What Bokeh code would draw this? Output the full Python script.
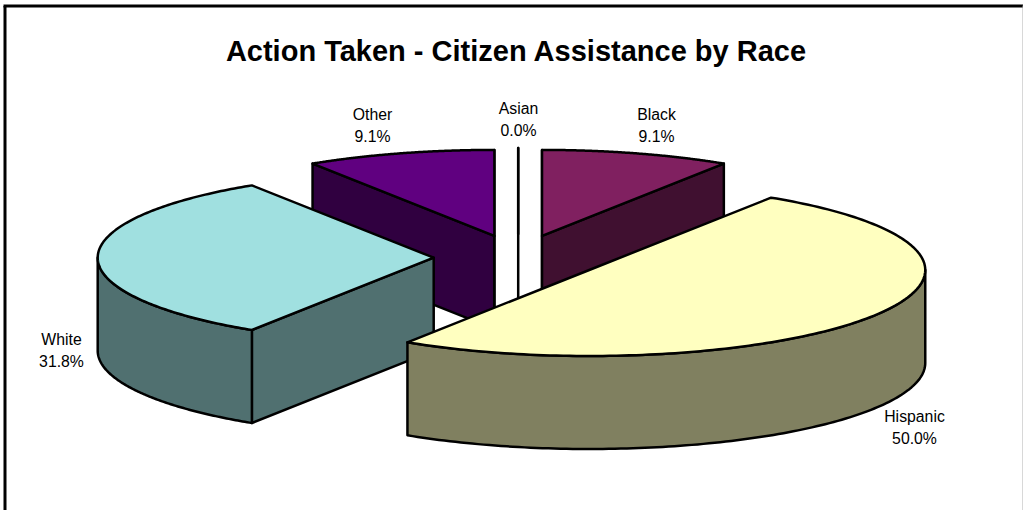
import numpy as np
from bokeh.plotting import figure
from bokeh.models import Range1d, ColumnDataSource
from bokeh.core.properties import value
from bokeh.embed import file_html
from bokeh.resources import INLINE

# --- data (clockwise from 12 o'clock) ---
categories = ["Asian", "Black", "Hispanic", "White", "Other"]
percent = [0.0, 9.1, 50.0, 31.8, 9.1]
title = "Action Taken - Citizen Assistance by Race"

# --- styles ---
top_colors = {"Asian": "#ffffff", "Black": "#802060", "Hispanic": "#FFFFC0", "White": "#A0E0E0", "Other": "#600080"}
side_colors = {"Asian": "#ffffff", "Black": "#401030", "Hispanic": "#808060", "White": "#507070", "Other": "#300040"}
draw_order = ["Asian", "Other", "Black", "White", "Hispanic"]

# --- layout of the pie ---
CX, CY = 517.7, 257.2
RX, RY = 336.0, 86.0
DEPTH = 93.0
EXPLODE_X, EXPLODE_Y = 84.5, 22.7
EXTRA_Y = {"Asian": 1.0}
label_pos = {"Asian": (518, 108), "Black": (656, 114), "Hispanic": (914, 416), "White": (61, 339), "Other": (372, 114)}
LINE_GAP = 22

W, H = 1023, 510
p = figure(width=W, height=H, x_range=Range1d(0, W), y_range=Range1d(H, 0),
           output_backend="svg", toolbar_location=None, min_border=0,
           background_fill_color="white", border_fill_color="white", outline_line_color=None)
p.axis.visible = False
p.grid.visible = False
p.styles = {"position": "absolute", "left": "0px", "top": "0px"}

total = sum(percent)
spans = {}
a = 0.0
for c, v in zip(categories, percent):
    spans[c] = (a, a + v / total * 2 * np.pi)
    a = spans[c][1]

xs, ys, fills = [], [], []


def add(x, y, color):
    xs.append(list(map(float, x)))
    ys.append(list(map(float, y)))
    fills.append(color)


for c in draw_order:
    t0, t1 = spans[c]
    mid = (t0 + t1) / 2
    cx = CX + EXPLODE_X * np.sin(mid)
    cy = CY - (EXPLODE_Y + EXTRA_Y.get(c, 0.0)) * np.cos(mid)
    px = lambda t: cx + RX * np.sin(t)
    py = lambda t: cy - RY * np.cos(t)
    # radial wall at the start edge, faces the viewer when sin(t0) <= 0
    if np.sin(t0) <= 1e-9:
        add([cx, px(t0), px(t0), cx], [cy, py(t0), py(t0) + DEPTH, cy + DEPTH], side_colors[c])
    # radial wall at the end edge, faces the viewer when sin(t1) >= 0
    if np.sin(t1) >= -1e-9 and t1 > t0:
        add([cx, px(t1), px(t1), cx], [cy, py(t1), py(t1) + DEPTH, cy + DEPTH], side_colors[c])
    # outer rim wall: only the front half of the ellipse
    lo, hi = max(t0, np.pi / 2), min(t1, 3 * np.pi / 2)
    if hi > lo:
        t = np.linspace(lo, hi, 120)
        add(np.r_[px(t), px(t[::-1])], np.r_[py(t), py(t[::-1]) + DEPTH], side_colors[c])
    # top face
    t = np.linspace(t0, t1, 160)
    add(np.r_[cx, px(t)], np.r_[cy, py(t)], top_colors[c])

p.patches(xs="xs", ys="ys", fill_color="fill", line_color="black", line_width=2.5, line_join="round",
          source=ColumnDataSource(dict(xs=xs, ys=ys, fill=fills)))

# chart frame (top, left, right edges)
p.line([4.5, 4.5], [H, 5.5], line_color="black", line_width=3)
p.line([3, W], [5.5, 5.5], line_color="black", line_width=3)
p.line([W - 0.5, W - 0.5], [5, H], line_color="#b0b0b0", line_width=1)

# title
p.text([516], [50], text=[title], text_font=value("Liberation Sans"), text_font_style="bold",
       text_font_size="29px", text_color="black", text_align="center", text_baseline="middle")

# data labels
lx, ly, lt = [], [], []
for c, v in zip(categories, percent):
    x, y = label_pos[c]
    lx += [x, x]
    ly += [y, y + LINE_GAP]
    lt += [c, f"{v:.1f}%"]
p.text(lx, ly, text=lt, text_font=value("Liberation Sans"), text_font_size="15.8px",
       text_color="black", text_align="center", text_baseline="middle")

open("out.html", "w").write(file_html(p, INLINE))
